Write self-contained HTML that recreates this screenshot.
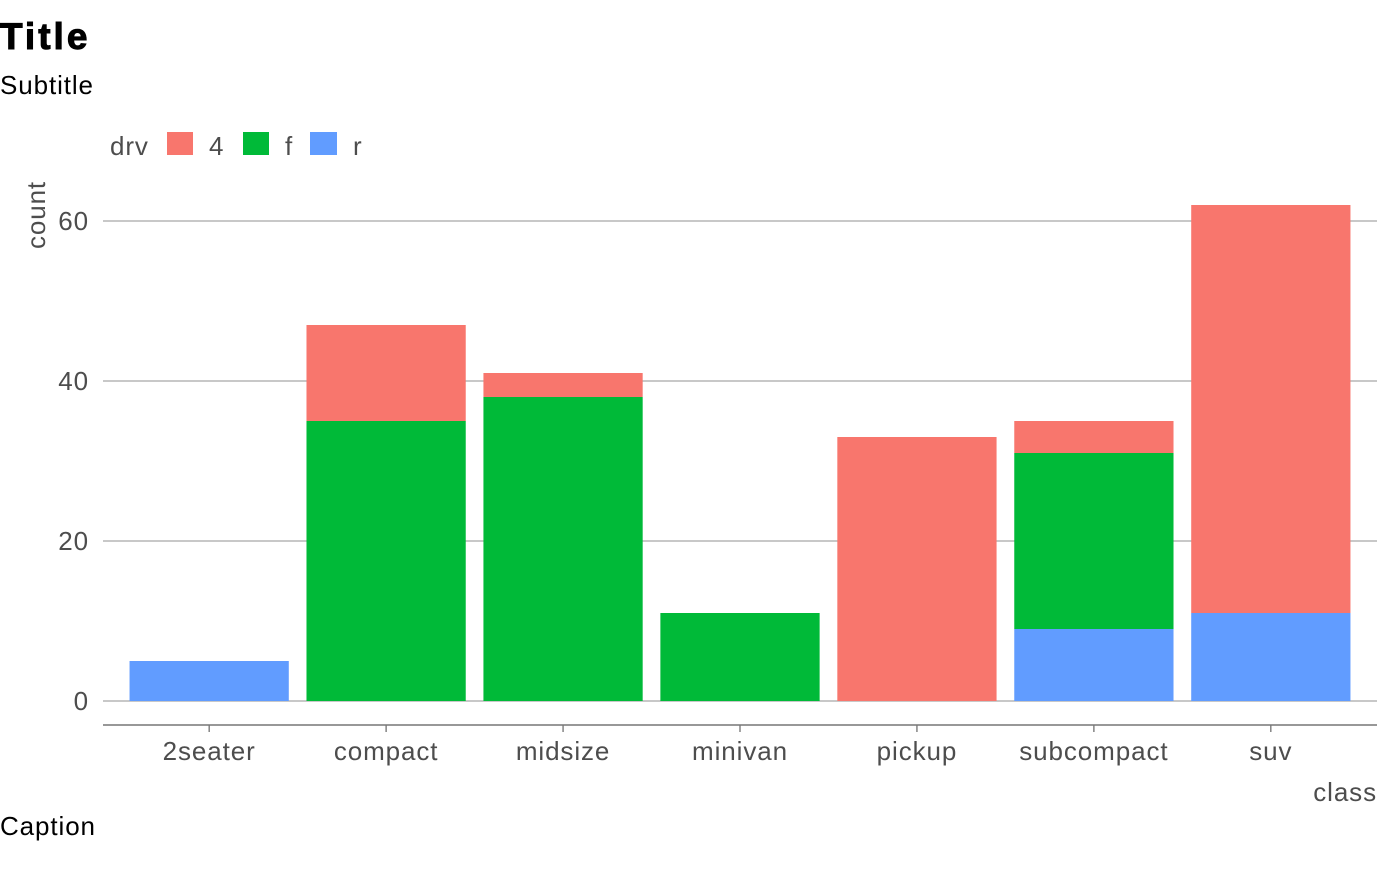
<!DOCTYPE html>
<html><head><meta charset="utf-8"><style>
body{margin:0;background:#fff;}
svg text{font-family:"Liberation Sans",Arial,sans-serif;}
.t{font-size:26px;letter-spacing:0.9px;}
</style></head><body>
<svg id="chart" width="1400" height="865" xmlns="http://www.w3.org/2000/svg">
<text x="0" y="49" font-size="37" font-weight="bold" letter-spacing="3" stroke="#000" stroke-width="1" fill="#000">Title</text>
<text class="t" x="0" y="94" fill="#000">Subtitle</text>
<text class="t" x="0" y="835" fill="#000">Caption</text>
<g>
<text class="t" x="110" y="155" fill="#4d4d4d">drv</text>
<rect x="167" y="132" width="26" height="23" fill="#F8766D"/>
<text class="t" x="209" y="155" fill="#4d4d4d">4</text>
<rect x="243" y="132" width="26" height="23" fill="#00BA38"/>
<text class="t" x="285" y="155" fill="#4d4d4d">f</text>
<rect x="310" y="132" width="27" height="23" fill="#619CFF"/>
<text class="t" x="353" y="155" fill="#4d4d4d">r</text>
</g>
<text class="t" transform="translate(45,215) rotate(-90)" text-anchor="middle" fill="#4d4d4d">count</text>
<text class="t" x="1377" y="801" text-anchor="end" fill="#4d4d4d">class</text>
<g id="grid"></g><g id="bars"></g><g id="axes"></g>
</svg>
<script>
const categories=["2seater","compact","midsize","minivan","pickup","subcompact","suv"];
const seriesR=[5,0,0,0,0,9,11];
const seriesF=[0,35,38,11,0,22,0];
const series4=[0,12,3,0,33,4,51];
const yTicks=[0,20,40,60];
const NS="http://www.w3.org/2000/svg";
const L=103,R=1377;
const band=(R-L)/(categories.length+0.2);
function xC(i){return L+band*(0.6+i);}
function yS(v){return 701-v*8;}
function mk(t,a,p){const e=document.createElementNS(NS,t);for(const k in a)e.setAttribute(k,a[k]);p.appendChild(e);return e;}
const grid=document.getElementById('grid'),bars=document.getElementById('bars'),axes=document.getElementById('axes');
yTicks.forEach(v=>{
 const l=mk('line',{x1:L,x2:R,y1:yS(v),y2:yS(v),stroke:'#a6a6a6','stroke-width':1.2},grid);
 
 
 const t=mk('text',{x:89,y:yS(v)+9,'text-anchor':'end',class:'t',fill:'#4d4d4d'},axes);
 t.textContent=v;
 
 
});
const colors={r:'#619CFF',f:'#00BA38',4:'#F8766D'};
const bw=band*0.9;
categories.forEach((c,i)=>{
 let base=0;
 [['r',seriesR],['f',seriesF],['4',series4]].forEach(([k,arr])=>{
  const v=arr[i]; if(!v)return;
  const r=mk('rect',{x:xC(i)-bw/2,y:yS(base+v),width:bw,height:v*8,fill:colors[k]},bars);
  
  
  base+=v;
 });
 const tk=mk('line',{x1:xC(i),x2:xC(i),y1:725,y2:732,stroke:'#666','stroke-width':1.2},axes);
 
 
 const t=mk('text',{x:xC(i),y:760,'text-anchor':'middle',class:'t',fill:'#4d4d4d'},axes);
 t.textContent=c;
 
 
});
const ax=mk('line',{x1:L,x2:R,y1:725,y2:725,stroke:'#777','stroke-width':1.5},axes);


</script>
</body></html>
